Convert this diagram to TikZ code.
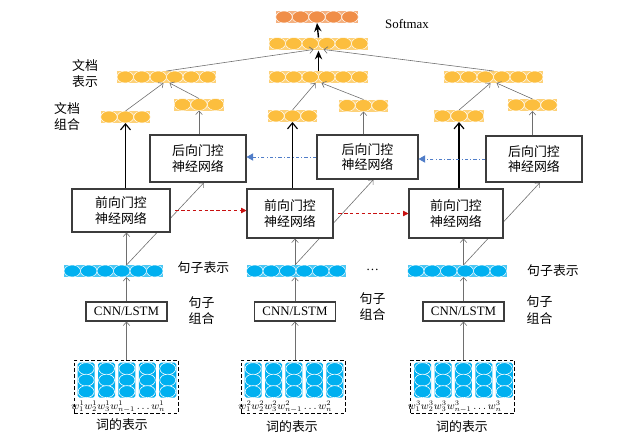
\documentclass[tikz,border=0pt]{standalone}
\usepackage{fontspec}
\setmainfont{Liberation Serif}
\newfontfamily\cjk{Noto Sans CJK SC}
\usetikzlibrary{arrows.meta,calc,backgrounds}
\definecolor{cellgold}{RGB}{252,190,62}
\definecolor{cellorange}{RGB}{240,142,72}
\definecolor{cellblue}{RGB}{0,176,240}
\definecolor{linkgray}{RGB}{110,110,110}
\definecolor{boxgray}{RGB}{60,60,60}
\definecolor{fwdred}{RGB}{200,16,16}
\definecolor{bwdblue}{RGB}{80,125,200}
\pgfmathsetmacro{\cellw}{16.5*0.03}
\pgfmathsetmacro{\cellh}{12*0.03}
\tikzset{
  vecrow/.style={rectangle, inner sep=0pt, outer sep=0pt, minimum height=\cellh cm},
  grubox/.style={draw=boxgray, line width=0.9pt, fill=white, align=center, inner sep=0pt,
    font=\cjk\fontsize{11}{13}\selectfont},
  cnnbox/.style={draw=boxgray, line width=0.9pt, fill=white, inner sep=0pt,
    minimum width=81*0.03cm, minimum height=19*0.03cm, font=\fontsize{11}{13}\selectfont},
  wordframe/.style={draw, densely dashed, line width=0.6pt, inner sep=0pt,
    minimum width=104*0.03cm, minimum height=53*0.03cm},
  wordcol/.style={rectangle, rounded corners=1.5pt, fill=cellblue, inner sep=0pt,
    minimum width=17*0.03cm, minimum height=35*0.03cm},
  sidetext/.style={align=center, inner sep=0pt, font=\cjk\fontsize{11}{14}\selectfont},
  thinlink/.style={draw=linkgray, line width=0.5pt, -{Straight Barb[length=1.1mm,width=2mm]}},
  thicklink/.style={draw=black, line width=1pt, -{Straight Barb[length=1.8mm,width=3mm]}},
  thickfill/.style={draw=black, line width=1.2pt, -{Stealth[length=2.6mm,width=2.2mm]}},
  fwdlink/.style={draw=fwdred, densely dashed, line width=0.6pt, -{Triangle[length=1.6mm,width=1.6mm]}},
  bwdlink/.style={draw=bwdblue, dash dot, line width=0.7pt, -{Triangle[length=2mm,width=2.2mm]}},
}
% row of cells: name, position, count, colour
\newcommand{\cellrow}[4]{%
  \node[vecrow, fill=#4!70, minimum width=#3*\cellw cm] (#1) at #2 {};
  \foreach \k in {1,...,#3}
    \draw[white, fill=#4, line width=0.4pt] ($(#1.west)+({(\k-0.5)*16.5},0)$) ellipse [x radius=8.25, y radius=6];
}
% word block: name, position, sentence index
\newcommand{\wordblock}[3]{%
  \node[wordframe] (#1) at #2 {};
  \foreach \j in {0,...,4}{
    \node[wordcol] (#1_col\j) at ($(#1.north west)+({12.5+20.4*\j},20.5)$) {};
    \foreach \i in {-1,0,1}
      \draw[white, fill=cellblue, line width=0.5pt] ($(#1_col\j)+(0,{11.5*\i})$) ellipse [x radius=8, y radius=6];
  }
  \node[anchor=south west, inner sep=0.5pt, font=\fontsize{9}{10}\selectfont] at ($(#1.south west)+(-3,0)$)
    {$w_1^{#3}w_2^{#3}w_3^{#3}w_{n-1}^{#3}\ldots w_n^{#3}$};
}

\begin{document}
\begin{tikzpicture}[x=0.03cm, y=-0.03cm]
    \useasboundingbox (0,0) rectangle (638,440);
    % define vertices
    % document level
    \cellrow{soft_vec}{(317,17)}{5}{cellorange}
    \cellrow{doc_vec}{(318.5,43.5)}{6}{cellgold}
    \cellrow{doc_a}{(166.5,77)}{6}{cellgold}
    \cellrow{doc_b}{(318.5,77)}{6}{cellgold}
    \cellrow{doc_c}{(493.5,77)}{6}{cellgold}
    \cellrow{fwd_doc_a}{(125.5,117)}{3}{cellgold}
    \cellrow{bwd_doc_a}{(199,104.5)}{3}{cellgold}
    \cellrow{fwd_doc_b}{(292.5,116)}{3}{cellgold}
    \cellrow{bwd_doc_b}{(363.5,105.5)}{3}{cellgold}
    \cellrow{fwd_doc_c}{(459,116)}{3}{cellgold}
    \cellrow{bwd_doc_c}{(532.5,105)}{3}{cellgold}
    % gated networks
    \node[grubox, minimum width=96*0.03cm, minimum height=47*0.03cm] (bwd_gru_a) at (198,158.5) {后向门控\\神经网络};
    \node[grubox, minimum width=101*0.03cm, minimum height=44*0.03cm] (bwd_gru_b) at (367.5,157) {后向门控\\神经网络};
    \node[grubox, minimum width=96*0.03cm, minimum height=46*0.03cm] (bwd_gru_c) at (534,159) {后向门控\\神经网络};
    \node[grubox, minimum width=98*0.03cm, minimum height=43*0.03cm] (fwd_gru_a) at (121,210.5) {前向门控\\神经网络};
    \node[grubox, minimum width=86*0.03cm, minimum height=49*0.03cm] (fwd_gru_b) at (290,213.5) {前向门控\\神经网络};
    \node[grubox, minimum width=94*0.03cm, minimum height=49*0.03cm] (fwd_gru_c) at (456,213.5) {前向门控\\神经网络};
    % sentence level
    \cellrow{sent_a}{(113.5,271)}{6}{cellblue}
    \cellrow{sent_b}{(296,271)}{6}{cellblue}
    \cellrow{sent_c}{(457,271)}{6}{cellblue}
    \node[cnnbox] (cnn_a) at (126.5,311.5) {CNN/LSTM};
    \node[cnnbox] (cnn_b) at (295,311.5) {CNN/LSTM};
    \node[cnnbox] (cnn_c) at (463.5,311.5) {CNN/LSTM};
    % words
    \wordblock{words_a}{(126,386.5)}{1}
    \wordblock{words_b}{(293,386.5)}{2}
    \wordblock{words_c}{(462.5,386.5)}{3}
    % draw diagram
    \foreach \c in {a,b,c}{
        \draw[thinlink] (cnn_\c.south |- words_\c.north) -- (cnn_\c.south);
        \draw[thinlink] (cnn_\c.north) -- (cnn_\c.north |- sent_\c.south);
        \draw[thinlink] (cnn_\c.north |- sent_\c.north) -- (cnn_\c.north |- fwd_gru_\c.south);
        \draw[thicklink] (fwd_gru_\c.north -| fwd_doc_\c) -- (fwd_doc_\c.south);
        \draw[thinlink] (bwd_gru_\c.north -| bwd_doc_\c) -- (bwd_doc_\c.south);
        \draw[thinlink] (fwd_doc_\c.north) -- ($(doc_\c.south)+(-3,0)$);
        \draw[thinlink] (bwd_doc_\c.north) -- ($(doc_\c.south)+(3,0)$);
    }
    % sentence to backward network, passes behind forward box
    \begin{scope}[on background layer]
        \foreach \c in {a,b,c}
            \draw[thinlink] (cnn_\c.north |- sent_\c.north) -- ($(bwd_gru_\c.south)+(6,0)$);
    \end{scope}
    \draw[thinlink] (doc_a.north) -- ($(doc_vec.south)+(-5,0)$);
    \draw[thickfill, shorten >=1pt] (doc_b.north) -- (doc_vec.south);
    \draw[thinlink] (doc_c.north) -- ($(doc_vec.south)+(5,0)$);
    \draw[thickfill] (doc_vec.north) -- (soft_vec.south);
    % recurrent links
    \draw[fwdlink, shorten <=4pt] (fwd_gru_a.east) -- (fwd_gru_a.east -| fwd_gru_b.west);
    \draw[fwdlink, shorten <=4pt] (fwd_gru_b.east) -- (fwd_gru_b.east -| fwd_gru_c.west);
    \draw[bwdlink] (bwd_gru_b.west) -- (bwd_gru_b.west -| bwd_gru_a.east);
    \draw[bwdlink] (bwd_gru_c.west) -- (bwd_gru_c.west -| bwd_gru_b.east);
    % add labels
    \node[font=\fontsize{11}{13}\selectfont] (softmax_text) at (407,24) {Softmax};
    \node[sidetext] (doc_rep_text) at (85,73.5) {文档\\表示};
    \node[sidetext] (doc_comb_text) at (67,116.5) {文档\\组合};
    \node[sidetext] (sent_rep_text_a) at (203.5,268) {句子表示};
    \node[sidetext] (sent_rep_text_c) at (553,271) {句子表示};
    \node[font=\fontsize{11}{13}\selectfont] (dots_text) at (372.5,270) {\ldots};
    \node[sidetext] (sent_comb_text_a) at (201.5,310.5) {句子\\组合};
    \node[sidetext] (sent_comb_text_b) at (372.5,306.5) {句子\\组合};
    \node[sidetext] (sent_comb_text_c) at (539.5,310) {句子\\组合};
    \node[sidetext] (word_text_a) at (122,425) {词的表示};
    \node[sidetext] (word_text_b) at (292,427) {词的表示};
    \node[sidetext] (word_text_c) at (462,427) {词的表示};
\end{tikzpicture}
\end{document}
